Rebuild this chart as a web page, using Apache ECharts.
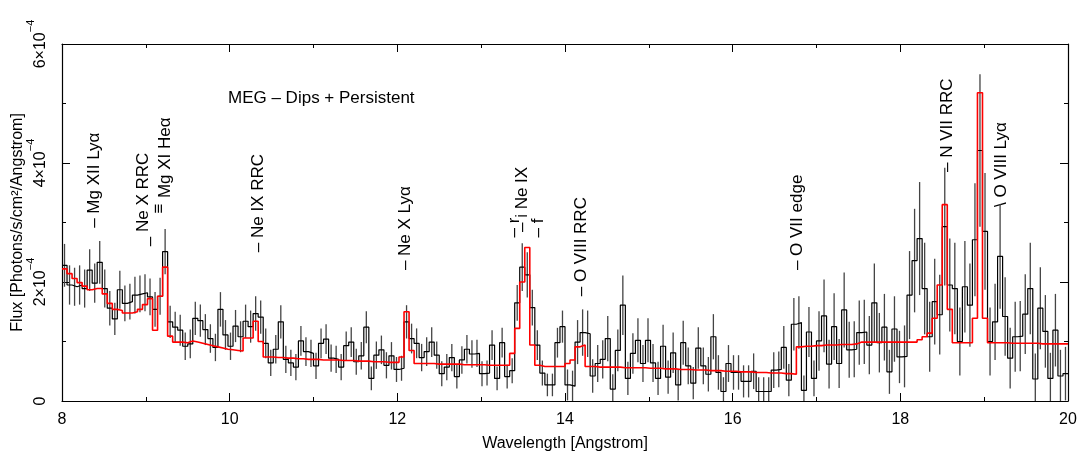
<!DOCTYPE html>
<html>
<head>
<meta charset="utf-8">
<script src="https://cdn.jsdelivr.net/npm/echarts@6/dist/echarts.min.js"></script>
<style>
  html, body { margin: 0; padding: 0; background: #fff; }
  #chart { width: 1078px; height: 459px; }
</style>
</head>
<body>
<div id="chart"></div>
<script>
// spectrum bins: 0.06 A wide starting at 8 A
const binStart = 8;
const binWidth = 0.06;

// measured flux (units of 1e-4 photons/s/cm2/A)
const fluxVals = [
  2.28,1.95,1.92,1.95,1.89,2.20,1.98,2.33,1.89,1.56,
  1.38,1.87,1.64,1.67,1.78,1.80,1.82,1.75,1.54,1.76,
  2.51,1.33,1.24,1.19,0.92,0.96,1.39,1.35,1.20,1.05,
  0.90,1.54,1.11,0.92,1.26,1.08,1.34,1.25,1.47,1.41,
  0.97,0.64,0.87,1.33,0.70,0.64,0.57,1.01,0.83,0.80,
  0.59,0.97,1.04,0.72,0.70,0.57,0.93,0.99,0.66,0.76,
  1.24,0.38,0.77,0.86,0.60,0.76,0.53,0.55,1.33,1.05,
  0.97,0.73,0.83,0.99,0.77,0.46,0.57,0.73,0.41,0.69,
  0.87,0.79,0.80,0.46,0.47,0.94,0.38,0.98,0.41,0.51,
  1.65,2.25,2.12,1.57,0.94,0.47,0.27,0.27,0.98,1.25,
  0.27,0.25,0.99,1.15,1.13,0.42,0.63,0.70,1.05,0.20,
  0.85,1.61,0.38,0.80,1.02,0.63,1.02,0.64,0.38,0.92,
  0.40,0.81,0.27,0.98,0.59,0.30,0.89,0.59,0.45,1.08,
  0.48,0.16,0.63,0.48,0.48,0.33,0.33,0.50,0.16,0.16,
  0.16,0.52,0.53,0.90,0.35,1.29,1.32,0.18,1.16,0.38,
  1.01,1.43,0.62,1.25,0.63,1.53,0.86,0.87,1.15,1.16,
  0.94,1.65,0.98,1.24,0.49,1.21,0.74,0.75,1.78,2.36,
  2.73,1.89,1.08,1.67,1.45,2.93,1.95,1.89,1.00,1.92,
  1.61,2.71,4.21,2.85,1.00,1.33,2.43,1.42,0.72,1.08,
  1.09,1.46,1.89,0.37,1.56,1.17,0.38,1.19,0.42,0.46
];

// 1-sigma error half lengths
const fluxErr = [
  0.36,0.33,0.32,0.33,0.32,0.35,0.33,0.36,0.32,0.29,
  0.27,0.32,0.30,0.30,0.31,0.31,0.31,0.31,0.29,0.31,
  0.38,0.27,0.26,0.26,0.23,0.24,0.28,0.27,0.26,0.24,
  0.23,0.29,0.25,0.23,0.27,0.26,0.28,0.27,0.29,0.28,
  0.25,0.22,0.24,0.28,0.23,0.22,0.22,0.25,0.24,0.23,
  0.22,0.25,0.25,0.23,0.23,0.22,0.24,0.25,0.22,0.23,
  0.27,0.20,0.23,0.24,0.22,0.23,0.21,0.21,0.28,0.25,
  0.25,0.23,0.24,0.25,0.23,0.21,0.22,0.23,0.20,0.23,
  0.24,0.23,0.23,0.21,0.21,0.25,0.20,0.25,0.20,0.21,
  0.30,0.40,0.38,0.30,0.25,0.21,0.19,0.19,0.25,0.27,
  0.26,0.26,0.37,0.39,0.39,0.28,0.31,0.32,0.38,0.25,
  0.35,0.50,0.28,0.34,0.37,0.31,0.37,0.32,0.28,0.36,
  0.28,0.34,0.26,0.37,0.31,0.27,0.35,0.31,0.29,0.38,
  0.29,0.24,0.31,0.29,0.29,0.27,0.27,0.30,0.24,0.24,
  0.24,0.30,0.30,0.36,0.27,0.44,0.44,0.25,0.42,0.30,
  0.50,0.61,0.41,0.56,0.41,0.63,0.47,0.47,0.54,0.54,
  0.49,0.66,0.50,0.56,0.37,0.55,0.44,0.52,0.74,0.87,
  0.95,0.77,0.59,0.72,0.67,0.99,0.78,0.77,0.57,0.77,
  0.70,0.95,1.28,0.98,0.57,0.64,0.88,0.66,0.51,0.59,
  0.59,0.67,0.77,0.43,0.69,0.61,0.43,0.61,0.44,0.45
];

// model (red)
const modelVals = [
  2.22,2.14,2.06,1.99,1.93,1.87,1.89,1.89,1.80,1.64,
  1.54,1.52,1.48,1.48,1.50,1.54,1.62,1.72,1.19,1.76,
  2.25,1.09,0.99,0.99,0.98,1.01,0.99,0.97,0.95,0.93,
  0.91,0.89,0.87,0.86,0.85,0.84,1.06,1.06,1.34,1.00,
  0.74,0.74,0.73,0.73,0.72,0.72,0.71,0.71,0.70,0.70,
  0.70,0.69,0.69,0.69,0.69,0.68,0.68,0.68,0.67,0.67,
  0.67,0.66,0.66,0.66,0.65,0.65,0.65,0.74,1.50,0.85,
  0.63,0.63,0.63,0.63,0.62,0.62,0.62,0.62,0.62,0.61,
  0.61,0.61,0.61,0.61,0.60,0.60,0.60,0.60,0.60,0.80,
  1.22,2.00,2.58,0.94,0.60,0.58,0.58,0.58,0.58,0.58,
  0.63,0.69,0.91,0.94,0.58,0.58,0.57,0.57,0.57,0.57,
  0.57,0.56,0.56,0.56,0.56,0.56,0.55,0.55,0.55,0.54,
  0.54,0.54,0.53,0.53,0.53,0.52,0.52,0.52,0.51,0.51,
  0.51,0.50,0.50,0.50,0.49,0.49,0.49,0.48,0.48,0.48,
  0.47,0.47,0.47,0.46,0.46,0.45,0.91,0.92,0.92,0.93,
  0.93,0.94,0.94,0.94,0.95,0.95,0.95,0.96,0.99,0.99,
  0.99,0.99,0.99,0.99,0.99,0.99,0.99,0.99,0.99,0.99,
  1.03,1.08,1.14,1.39,1.95,3.30,1.54,0.98,0.98,0.98,
  0.98,1.39,5.18,1.39,0.98,0.98,0.98,0.98,0.97,0.97,
  0.97,0.97,0.97,0.97,0.96,0.96,0.96,0.96,0.96,0.96
];

// line identifications: text, wavelength, flux where the text starts
const lineNames = ['\u2013 Mg XII Ly\u03b1', 'Ne X RRC', '\u2013', '\u2261', 'Mg XI He\u03b1', '\u2013 Ne IX RRC',
  '\u2013 Ne X Ly\u03b1', '\u2013 r', '\u2013 i Ne IX', '\u2013 f', '\u2013 O VIII RRC',
  '\u2013 O VII edge', '\u2013 N VII RRC', '\\ O VIII Ly\u03b1'];
const lineWave = [8.39, 8.97, 9.05, 9.16, 9.23, 10.34, 12.09, 13.40, 13.49, 13.68, 14.19, 16.77, 18.56, 19.21];
const lineFlux = [2.91, 2.84, 2.60, 3.15, 3.41, 2.50, 2.20, 2.75, 2.84, 2.75, 1.76, 2.20, 3.85, 3.26];

const font = '"Liberation Sans", Arial, sans-serif';
const edges = fluxVals.map((v, i) => +(binStart + i * binWidth).toFixed(3));
const xEnd = +(binStart + fluxVals.length * binWidth).toFixed(3);

function stepData(vals) {
  return vals.map((v, i) => [edges[i], v]).concat([[xEnd, vals[vals.length - 1]]]);
}

const chart = echarts.init(document.getElementById('chart'));

const tickStyle = { color: '#000', width: 1 };
const xBase = {
  type: 'value', min: 8, max: 20, interval: 2,
  axisLine: { show: true, onZero: false, lineStyle: { color: '#000', width: 1.2 } },
  axisTick: { show: true, inside: true, length: 8, lineStyle: tickStyle },
  minorTick: { show: true, splitNumber: 2, length: 4, lineStyle: tickStyle },
  splitLine: { show: false }
};
const yBase = {
  type: 'value', min: 0, max: 6, interval: 2,
  axisLine: { show: true, onZero: false, lineStyle: { color: '#000', width: 1.2 } },
  axisTick: { show: true, inside: true, length: 8, lineStyle: tickStyle },
  minorTick: { show: true, splitNumber: 2, length: 4, lineStyle: tickStyle },
  splitLine: { show: false }
};

const option = {
  backgroundColor: '#fff',
  animation: false,
  grid: { left: 62, right: 10, top: 44, bottom: 58, containLabel: false, outerBoundsMode: 'none' },
  xAxis: [
    Object.assign({}, xBase, {
      position: 'bottom',
      axisLabel: { color: '#000', fontSize: 16, margin: 11, fontFamily: font },
      name: 'Wavelength [Angstrom]', nameLocation: 'middle', nameGap: 35, nameMoveOverlap: false,
      nameTextStyle: { color: '#000', fontSize: 16, fontFamily: font }
    }),
    Object.assign({}, xBase, { position: 'top', axisLabel: { show: false } })
  ],
  yAxis: [
    Object.assign({}, yBase, {
      position: 'left',
      axisLabel: {
        color: '#000', margin: 13, rotate: 90, fontFamily: font,
        formatter: v => v === 0 ? '{b|0}' : '{b|' + v + '\u00d710}{s|\u22124}',
        rich: {
          b: { fontSize: 16, fontFamily: font, color: '#000', padding: [8, 0, 0, 0] },
          s: { fontSize: 11, fontFamily: font, color: '#000', verticalAlign: 'top' }
        }
      },
      name: 'Flux [Photons/s/cm\u00b2/Angstrom]', nameLocation: 'middle', nameGap: 36, nameMoveOverlap: false,
      nameTextStyle: { color: '#000', fontSize: 16, fontFamily: font }
    }),
    Object.assign({}, yBase, { position: 'right', axisLabel: { show: false } })
  ],
  series: [
    {
      type: 'custom',
      silent: true,
      clip: true,
      renderItem: function (params, api) {
        const x = api.value(0), v = api.value(1), e = api.value(2);
        const p1 = api.coord([x, Math.max(0, v - e)]);
        const p2 = api.coord([x, v + e]);
        return {
          type: 'line',
          shape: { x1: p1[0], y1: p1[1], x2: p2[0], y2: p2[1] },
          style: { stroke: '#444', lineWidth: 1.3 }
        };
      },
      data: fluxVals.map((v, i) => [edges[i] + binWidth / 2, v, fluxErr[i]]),
      z: 1
    },
    {
      type: 'line', step: 'end', showSymbol: false, silent: true,
      data: stepData(fluxVals),
      lineStyle: { color: '#000', width: 1.2 },
      z: 2
    },
    {
      type: 'line', step: 'end', showSymbol: false, silent: true,
      data: stepData(modelVals),
      lineStyle: { color: '#ff0000', width: 1.6 },
      z: 3
    }
  ]
};
chart.setOption(option);

// line labels, rotated to read bottom to top
const graphics = lineNames.map((t, i) => {
  const p = chart.convertToPixel({ xAxisIndex: 0, yAxisIndex: 0 }, [lineWave[i], lineFlux[i]]);
  return {
    type: 'text', x: p[0], y: p[1], rotation: Math.PI / 2, silent: true,
    style: { text: t, fill: '#000', font: '17px ' + font, align: 'left', verticalAlign: 'middle' }
  };
});
graphics.push({
  type: 'text', left: 228, top: 90, silent: true,
  style: { text: 'MEG \u2013 Dips + Persistent', fill: '#000', font: '17px ' + font }
});
chart.setOption({ graphic: graphics });
</script>
</body>
</html>
